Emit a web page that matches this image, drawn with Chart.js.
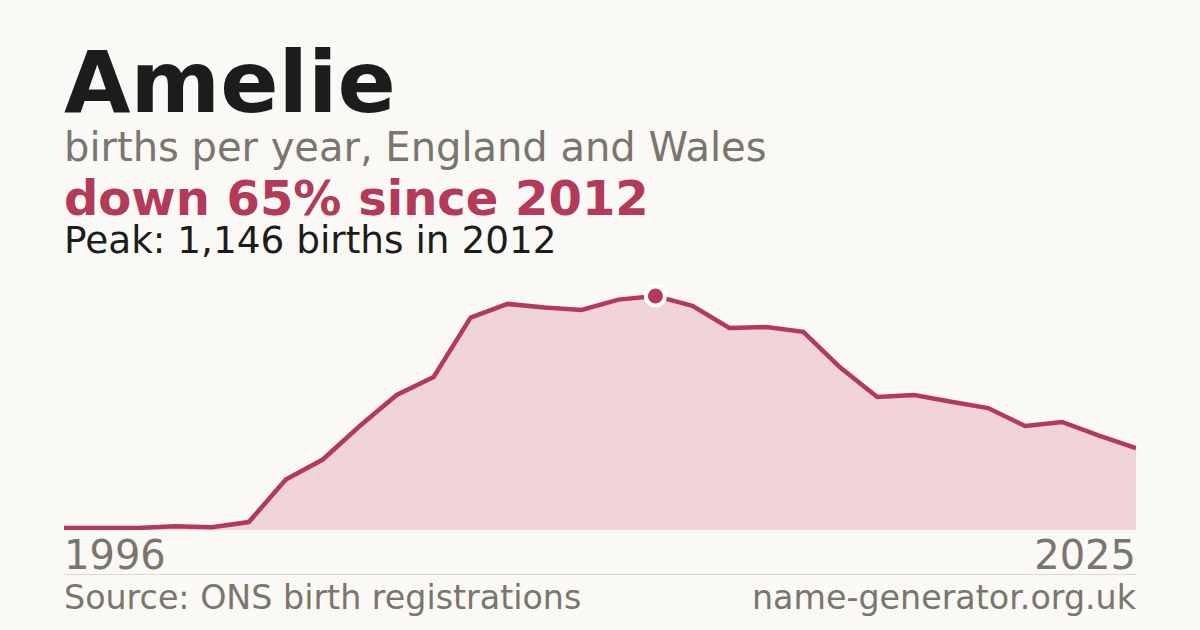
<!DOCTYPE html>
<html>
<head>
<meta charset="utf-8">
<script src="https://cdn.jsdelivr.net/npm/chart.js@4.4.1/dist/chart.umd.min.js"></script>
<style>
  html, body { margin: 0; padding: 0; }
  body { width: 1200px; height: 630px; background: #faf9f5; position: relative; overflow: hidden; font-family: "DejaVu Sans", sans-serif; }
  .t { position: absolute; left: 64px; line-height: 1; white-space: nowrap; }
  #title { top: 39px; font-size: 86px; font-weight: bold; color: #1c1c1c; }
  #sub { top: 127px; font-size: 40px; color: #7a756d; }
  #change { top: 174px; font-size: 48px; font-weight: bold; color: #b33a58; }
  #peak { top: 222px; font-size: 37.4px; color: #1c1c1c; }
  .yr { top: 535px; font-size: 40px; color: #7a756d; }
  #yrEnd { left: auto; right: 64px; }
  #rule { position: absolute; left: 64px; width: 1072px; top: 574px; height: 1px; background: #dcd9d3; }
  .foot { top: 581px; font-size: 33.3px; color: #7a756d; }
  #site { left: auto; right: 64px; }
  #wrap { position: absolute; left: 64px; top: 280px; width: 1072px; height: 250px; }
</style>
</head>
<body>
<div class="t" id="title"></div>
<div class="t" id="sub">births per year, England and Wales</div>
<div class="t" id="change"></div>
<div class="t" id="peak"></div>
<div id="wrap"><canvas id="nameChart"></canvas></div>
<div class="t yr" id="yrStart"></div>
<div class="t yr" id="yrEnd"></div>
<div id="rule"></div>
<div class="t foot">Source: ONS birth registrations</div>
<div class="t foot" id="site">name-generator.org.uk</div>
<script>
const name = "Amelie";
const years = ["1996", "1997", "1998", "1999", "2000", "2001", "2002", "2003", "2004", "2005",
  "2006", "2007", "2008", "2009", "2010", "2011", "2012", "2013", "2014", "2015",
  "2016", "2017", "2018", "2019", "2020", "2021", "2022", "2023", "2024", "2025"];
const births = [10, 10, 10, 18, 13, 39, 247, 345, 509, 661,
  749, 1040, 1107, 1089, 1077, 1128, 1146, 1097, 989, 994,
  970, 795, 651, 661, 628, 597, 509, 529, 462, 401];

const peak = Math.max(...births);
const peakIdx = births.indexOf(peak);
const last = births[births.length - 1];
const drop = Math.round((1 - last / peak) * 100);

document.getElementById("title").textContent = name;
document.getElementById("change").textContent = "down " + drop + "% since " + years[peakIdx];
document.getElementById("peak").textContent = "Peak: " + peak.toLocaleString("en-GB") + " births in " + years[peakIdx];
document.getElementById("yrStart").textContent = years[0];
document.getElementById("yrEnd").textContent = years[years.length - 1];

const red = "#b33a58";
const ctx = document.getElementById("nameChart").getContext("2d");
new Chart(ctx, {
  type: "line",
  data: {
    labels: years,
    datasets: [{
      data: births,
      borderColor: red,
      borderWidth: 4.5,
      backgroundColor: "#f1d4da",
      fill: "origin",
      tension: 0,
      pointRadius: births.map((v, i) => i === peakIdx ? 9.5 : 0),
      pointBackgroundColor: red,
      pointBorderColor: "#ffffff",
      pointBorderWidth: 4,
      pointHoverRadius: 0
    }]
  },
  options: {
    responsive: true,
    maintainAspectRatio: false,
    animation: false,
    layout: { padding: 0 },
    plugins: { legend: { display: false }, tooltip: { enabled: false } },
    scales: {
      x: { display: false, offset: false },
      y: { display: false, min: 0, max: 1224 }
    }
  }
});
</script>
</body>
</html>
